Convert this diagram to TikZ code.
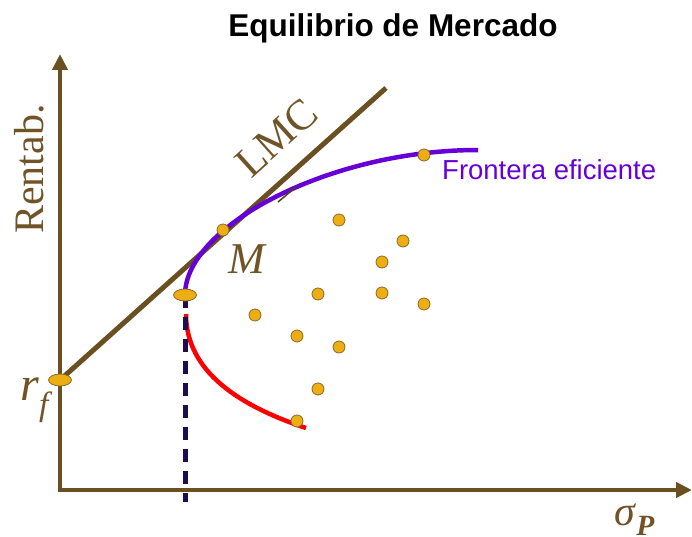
\documentclass[tikz,border=0pt]{standalone}
\usepackage{fontspec}
\setmainfont{Liberation Serif}
\setsansfont{Liberation Sans}
\usepackage{xcolor}
\usetikzlibrary{arrows.meta}
\usetikzlibrary{positioning}
\usetikzlibrary{shapes.geometric}

\definecolor{axisbrown}{RGB}{106,79,33}
\definecolor{dotfill}{RGB}{236,174,18}
\definecolor{dotline}{RGB}{140,105,40}
\definecolor{frontpurple}{RGB}{102,0,214}
\definecolor{dashnavy}{RGB}{30,12,82}
\definecolor{labelbrown}{RGB}{112,84,40}

\begin{document}
\begin{tikzpicture}[
					x=1pt, y=-1pt,
					axis/.style={draw=axisbrown, line width=4pt, line join=miter, {Triangle[width=15pt,length=16pt]}-{Triangle[width=15pt,length=16pt]}},
					lmc/.style={draw=axisbrown, line width=5pt},
					front/.style={draw=frontpurple, line width=4.5pt},
					lower/.style={draw=red, line width=4.5pt},
					dashline/.style={draw=dashnavy, line width=5pt, dash pattern=on 13pt off 9pt},
					dot/.style={circle, draw=dotline, fill=dotfill, line width=0.8pt, minimum size=12pt, inner sep=0pt},
					oval/.style={ellipse, draw=dotline, fill=dotfill, line width=0.8pt, minimum width=23pt, minimum height=12pt, inner sep=0pt},
					lbl/.style={text=labelbrown, inner sep=0pt, font=\fontsize{44}{50}\selectfont}
				]
					\useasboundingbox (0,0) rectangle (692,537);
					% axes
					\coordinate (o) at (60,490);
					\coordinate (ytop) at (60,54);
					\coordinate (xend) at (692,490);
					\draw[axis] (ytop) -- (o) -- (xend);
					% capital market line
					\coordinate (rf) at (60,380);
					\coordinate (lmcend) at (386,88);
					\draw[lmc] (rf) -- (lmcend);
					% frontier
					\coordinate (vtx) at (185,295);
					\coordinate (fend) at (478,150);
					\coordinate (rstart) at (186,314);
					\coordinate (rend) at (306,428);
					\draw[lower] (rstart) .. controls (186,372) and (240,406) .. (rend);
					\draw[dashline] (vtx) -- (185,502);
					\draw[front] (vtx) .. controls (185,226) and (330,150) .. (fend);
					\draw[draw=axisbrown!80!black, line width=1.5pt] (278,202) -- (296,187);
					% portfolios
					\node[oval] (rfdot) at (rf) {};
					\node[oval] (vdot) at (vtx) {};
					\node[dot] (m) at (223,230) {};
					\node[dot] (top) at (424,155) {};
					\node[dot] (p1) at (339,220) {};
					\node[dot] (p2) at (403,241) {};
					\node[dot] (p3) at (382,262) {};
					\node[dot] (p4) at (318,294) {};
					\node[dot] (p5) at (382,293) {};
					\node[dot] (p6) at (424,304) {};
					\node[dot] (p7) at (255,315) {};
					\node[dot] (p8) at (297,336) {};
					\node[dot] (p9) at (339,347) {};
					\node[dot] (p10) at (318,389) {};
					\node[dot] (p11) at (297,421) {};
					% labels
					\node[anchor=base, font=\fontsize{31.5}{36}\selectfont\sffamily\bfseries] (title) at (393,37) {Equilibrio de Mercado};
					\node[anchor=base west, inner sep=0pt, text=frontpurple, font=\fontsize{27.5}{32}\selectfont\sffamily] (flabel) at (442,180) {Frontera eficiente};
					\node[lbl, rotate=90, anchor=base, font=\fontsize{42}{48}\selectfont] (ylabel) at (43,169) {Rentab.};
					\node[lbl, rotate=42, anchor=base, font=\fontsize{43}{50}\selectfont] (lmclabel) at (286,148) {LMC};
					\node[lbl, anchor=base] (mlabel) at (248,273) {\textit{M}};
					\node[lbl, anchor=base west, font=\fontsize{48}{54}\selectfont] (rflabel) at (20,400) {\textit{r}\textsubscript{\textit{f}}};
					\node[lbl, anchor=base west, font=\fontsize{42}{48}\selectfont] (siglabel) at (614,525) {\textit{σ}\textsubscript{\textit{\textbf{P}}}};
				\end{tikzpicture}
\end{document}
